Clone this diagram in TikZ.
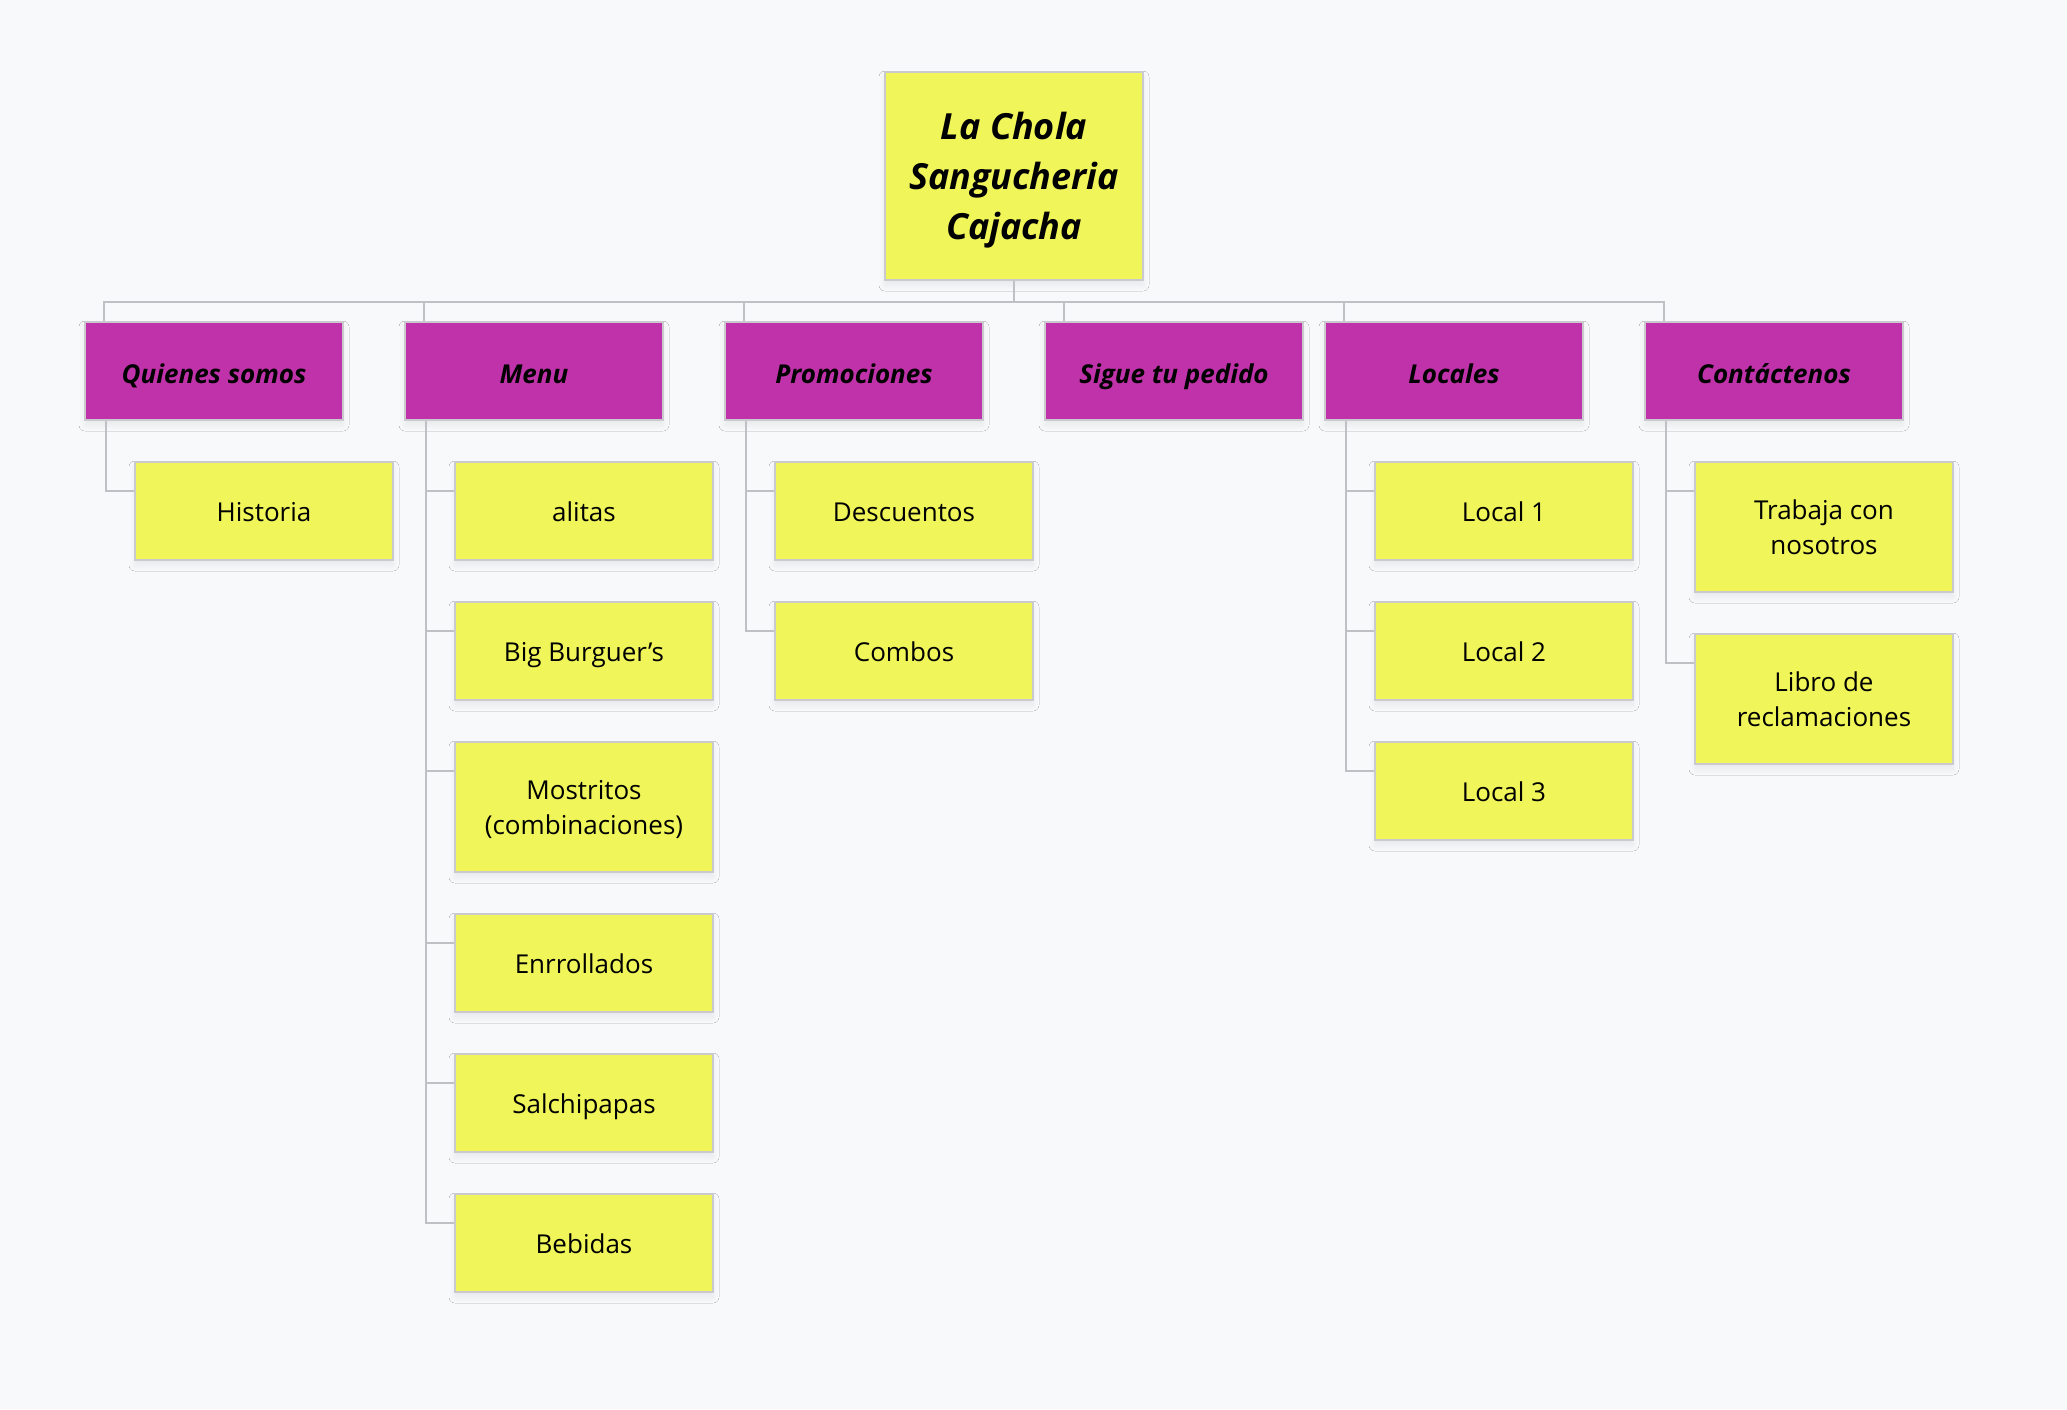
\documentclass[tikz,border=0pt]{standalone}
\usepackage{fontspec}
\setmainfont{Open Sans}
\usetikzlibrary{shadows.blur}
\definecolor{bgc}{RGB}{248,249,251}
\definecolor{ylw}{RGB}{240,245,90}
\definecolor{mag}{RGB}{192,50,170}
\definecolor{bord}{RGB}{202,202,206}
\definecolor{lnc}{RGB}{192,192,196}
\tikzset{
  box/.style={draw=bord, line width=1.1pt, rectangle, inner sep=0pt, align=center,
    minimum width=129pt, minimum height=49pt, text height=10.7pt, text depth=0pt,
    blur shadow={shadow xshift=0pt, shadow yshift=-2.5pt, shadow blur radius=3pt,
      shadow blur steps=12, shadow opacity=7}},
  rootbox/.style={box, fill=ylw, minimum height=104pt, text height=63pt,
    font=\fontsize{18}{25}\selectfont\bfseries\itshape},
  parbox/.style={box, fill=mag, text height=12pt, font=\fontsize{13}{17.5}\selectfont\bfseries\itshape},
  kidbox/.style={box, fill=ylw, font=\fontsize{13}{17.5}\selectfont},
  tallbox/.style={kidbox, minimum height=65pt, text height=27.5pt},
  conn/.style={draw=lnc, line width=0.8pt}
}
\begin{document}
\begin{tikzpicture}[x=0.5pt,y=-0.5pt]
\fill[bgc] (0,0) rectangle (2067,1409);
\useasboundingbox (0,0) rectangle (2067,1409);
\coordinate (bus) at (1014,302);
\node[rootbox] (root) at (1014,176) {La Chola\\Sangucheria\\Cajacha};
\node[parbox] (p1) at (214,371) {Quienes somos};
\node[parbox] (p2) at (534,371) {Menu};
\node[parbox] (p3) at (854,371) {Promociones};
\node[parbox] (p4) at (1174,371) {Sigue tu pedido};
\node[parbox] (p5) at (1454,371) {Locales};
\node[parbox] (p6) at (1774,371) {Contáctenos};
% children
\node[kidbox] (h) at (264,511) {Historia};
\node[kidbox] (m1) at (584,511) {alitas};
\node[kidbox] (m2) at (584,651) {Big Burguer’s};
\node[tallbox] (m3) at (584,807) {Mostritos\\(combinaciones)};
\node[kidbox] (m4) at (584,963) {Enrrollados};
\node[kidbox] (m5) at (584,1103) {Salchipapas};
\node[kidbox] (m6) at (584,1243) {Bebidas};
\node[kidbox] (d1) at (904,511) {Descuentos};
\node[kidbox] (d2) at (904,651) {Combos};
\node[kidbox] (l1) at (1504,511) {Local 1};
\node[kidbox] (l2) at (1504,651) {Local 2};
\node[kidbox] (l3) at (1504,791) {Local 3};
\node[tallbox] (c1) at (1824,527) {Trabaja con\\nosotros};
\node[tallbox] (c2) at (1824,699) {Libro de\\reclamaciones};
% top tree
\draw[conn] (root.south) -- (bus);
\foreach \p in {p1,p2,p3,p4,p5,p6}{
  \draw[conn] (bus) -| ([xshift=10pt]\p.north west);
}
% child elbows
\foreach \p/\c in {p1/h,p2/m1,p2/m2,p2/m3,p2/m4,p2/m5,p2/m6,p3/d1,p3/d2,p5/l1,p5/l2,p5/l3,p6/c1,p6/c2}{
  \draw[conn] ([xshift=11pt]\p.south west) |- ([yshift=-15pt]\c.north west);
}
\end{tikzpicture}
\end{document}
